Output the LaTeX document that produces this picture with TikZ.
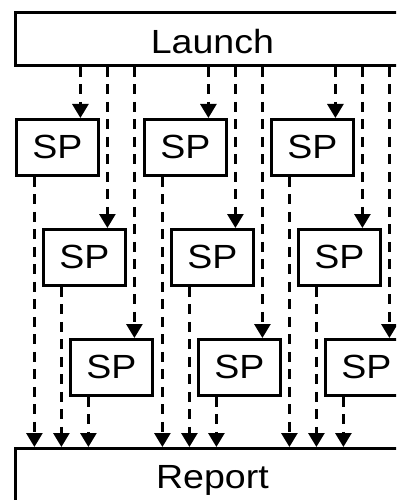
\documentclass[tikz,border=0pt]{standalone}
\usepackage{fontspec}
\setmainfont{Liberation Sans}[FakeStretch=1.12]
\usetikzlibrary{arrows.meta}
\begin{document}
\begin{tikzpicture}[x=1pt,y=-1pt,
  box/.style={draw,line width=2.8pt,inner sep=0pt,anchor=north west,
    text depth=0pt,font=\fontsize{33.5}{33.5}\selectfont},
  flow/.style={line width=2.8pt,dash pattern=on 10pt off 7.5pt,
    -{Triangle[length=14pt,width=16pt]}}]
\useasboundingbox (0,0) rectangle (396,500);
\clip (0,0) rectangle (396,500);

% the two wide bars
\node[box,minimum width=394pt,minimum height=53pt,text height=28.4pt] (launch) at (14,11) {Launch};
\node[box,minimum width=394pt,minimum height=55.4pt,text height=24pt] (report) at (14,447) {Report};

% three columns of staggered SP boxes
\foreach \c/\dx in {0/0,1/128,2/255} {
  \foreach \r in {0,1,2} {
    \node[box,minimum width=82pt,minimum height=56pt,text height=23pt]
      (sp-\c-\r) at ({15+27*\r+\dx},{118+110*\r}) {SP};
    \coordinate (in-\c-\r) at ([xshift=23pt]sp-\c-\r.north);
    \coordinate (out-\c-\r) at ([xshift=-23pt]sp-\c-\r.south);
    \draw[flow] (launch.south -| in-\c-\r) -- (in-\c-\r);
    \draw[flow] (out-\c-\r) -- (report.north -| out-\c-\r);
  }
}
\end{tikzpicture}
\end{document}
